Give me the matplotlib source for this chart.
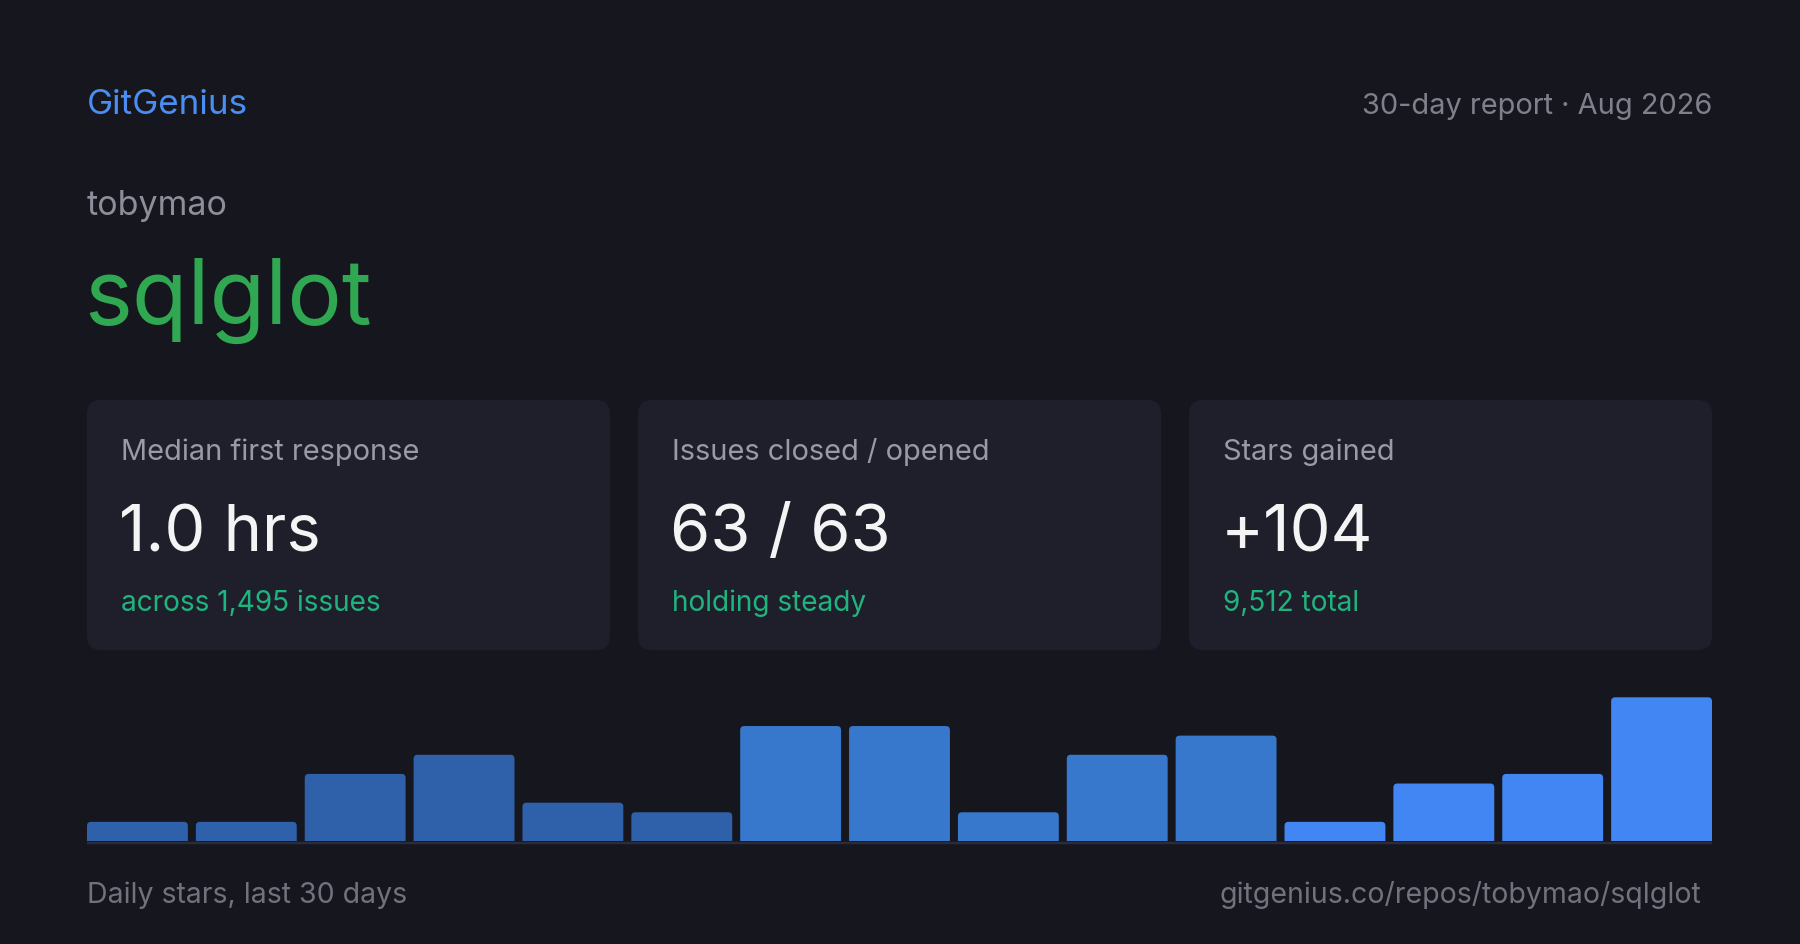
import matplotlib

matplotlib.use("Agg")
import matplotlib.pyplot as plt
from matplotlib.patches import FancyBboxPatch

# Datos del reporte
marca = "GitGenius"
periodo = "30-day report · Aug 2026"
propietario = "tobymao"
repositorio = "sqlglot"
etiquetas_tarjetas = ["Median first response", "Issues closed / opened", "Stars gained"]
valores_tarjetas = ["1.0 hrs", "63 / 63", "+104"]
notas_tarjetas = ["across 1,495 issues", "holding steady", "9,512 total"]
estrellas_diarias = [2, 2, 7, 9, 4, 3, 12, 12, 3, 9, 11, 2, 6, 7, 15]
pie_izquierda = "Daily stars, last 30 days"
pie_derecha = "gitgenius.co/repos/tobymao/sqlglot"

FONDO = "#16161f"
TARJETA = "#1f1f2b"
colores_barras = ["#2f60aa"] * 6 + ["#3878cc"] * 5 + ["#4286f4"] * 4

plt.rcParams["font.family"] = ["Inter", "DejaVu Sans"]

W, H = 1800, 945
fig = plt.figure(figsize=(W / 100, H / 100), dpi=100, facecolor=FONDO)

# Eje de fondo en coordenadas de pixel
fondo = fig.add_axes([0, 0, 1, 1])
fondo.set_xlim(0, W)
fondo.set_ylim(H, 0)
fondo.axis("off")
fondo.set_facecolor(FONDO)


def px(tam):
    return tam * 0.72


fondo.text(87, 114, marca, color="#4a8ef2", fontsize=px(35), va="baseline")
fondo.text(1712, 114, periodo, color="#80808c", fontsize=px(29), va="baseline", ha="right")
fondo.text(87, 215, propietario, color="#8e8e9a", fontsize=px(34), va="baseline")
fondo.text(84, 324, repositorio, color="#2fa851", fontsize=px(91), va="baseline")

# Tarjetas
x_tarjetas = [87, 638, 1189]
ancho_tarjeta = 523
for x0, etiqueta, valor, nota in zip(
    x_tarjetas, etiquetas_tarjetas, valores_tarjetas, notas_tarjetas
):
    caja = FancyBboxPatch(
        (x0, 401),
        ancho_tarjeta,
        250,
        boxstyle="round,pad=0,rounding_size=14",
        facecolor=TARJETA,
        edgecolor="none",
    )
    fondo.add_patch(caja)
    fondo.text(x0 + 34, 460, etiqueta, color="#9a9aa6", fontsize=px(29), va="baseline")
    fondo.text(x0 + 32, 551, valor, color="#f4f4f4", fontsize=px(65), va="baseline")
    fondo.text(x0 + 34, 611, nota, color="#1fb47e", fontsize=px(28), va="baseline")

# Linea base del grafico
fondo.plot([87, 1712], [843.5, 843.5], color="#2c2c38", linewidth=px(2.5), solid_capstyle="butt")

fondo.text(87, 903, pie_izquierda, color="#72727e", fontsize=px(28.5), va="baseline")
fondo.text(1701, 903, pie_derecha, color="#72727e", fontsize=px(28.5), va="baseline", ha="right")

# Barras de estrellas diarias
ancho_px = 100.9
paso_px = 108.9
alto_px = 143.7
ancho_rel = ancho_px / paso_px
ax = fig.add_axes([87 / W, (H - 842) / H, 1625 / W, alto_px / H])
ax.set_facecolor("none")
posiciones = list(range(len(estrellas_diarias)))
barras = ax.bar(posiciones, estrellas_diarias, width=ancho_rel, color=colores_barras, linewidth=0)
ax.set_xlim(-ancho_rel / 2, posiciones[-1] + ancho_rel / 2)
ax.set_ylim(0, max(estrellas_diarias))
ax.axis("off")

# Esquinas superiores redondeadas (la parte inferior queda recortada por el eje)
radio_px = 4
unidad_y = alto_px / max(estrellas_diarias)
radio_x = radio_px / paso_px
aspecto = (1 / unidad_y) / (1 / paso_px)
for barra in barras:
    barra.set_visible(False)
    redondeada = FancyBboxPatch(
        (barra.get_x(), -radio_px / unidad_y * 2),
        barra.get_width(),
        barra.get_height() + radio_px / unidad_y * 2,
        boxstyle=f"round,pad=0,rounding_size={radio_x}",
        mutation_aspect=aspecto,
        facecolor=barra.get_facecolor(),
        edgecolor="none",
    )
    ax.add_patch(redondeada)

fig.savefig("out.png", dpi=100, facecolor=FONDO)
